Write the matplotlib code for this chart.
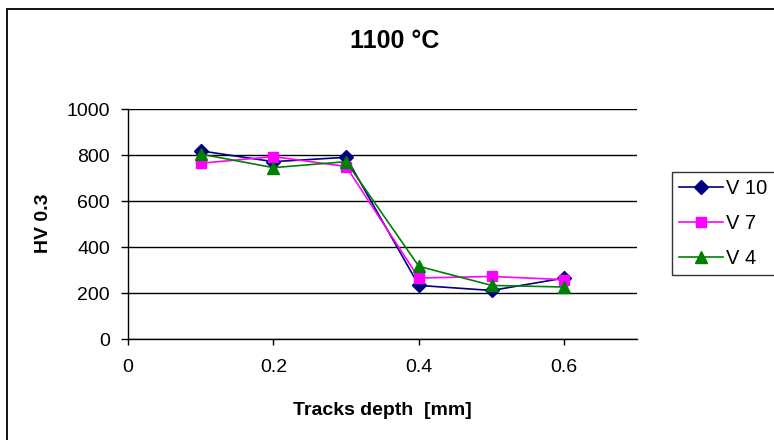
import matplotlib
matplotlib.use("Agg")
import matplotlib.pyplot as plt
from matplotlib.patches import Rectangle
from matplotlib.lines import Line2D

plt.rcParams['font.family'] = ['Liberation Sans', 'DejaVu Sans']

# Hardness profile data
depth = [0.1, 0.2, 0.3, 0.4, 0.5, 0.6]
v10 = [818, 771, 790, 233, 211, 265]
v7 = [764, 793, 750, 265, 272, 258]
v4 = [804, 745, 771, 316, 233, 226]
series_names = ["V 10", "V 7", "V 4"]
y_ticks = [0, 200, 400, 600, 800, 1000]
x_ticks = [0, 0.2, 0.4, 0.6]
x_tick_labels = ["0", "0.2", "0.4", "0.6"]

W, H = 774, 440
fig = plt.figure(figsize=(W / 100, H / 100), dpi=100)

# outer chart frame
fig.patches.append(Rectangle((7 / W, 0 - 0.1), 1.2, 1 - 9 / H + 0.1,
                             transform=fig.transFigure, fill=False,
                             edgecolor='black', linewidth=1.3, zorder=0))

ax = fig.add_axes([128 / W, 1 - 339 / H, (637 - 128) / W, (339 - 109) / H])
ax.set_xlim(0, 0.7)
ax.set_ylim(0, 1000)
ax.set_yticks(y_ticks)
ax.set_xticks(x_ticks)
ax.set_xticklabels(x_tick_labels)
ax.yaxis.grid(True, color='black', linewidth=1.0)
ax.set_axisbelow(True)
for side in ['top', 'right']:
    ax.spines[side].set_visible(False)
for side in ['left', 'bottom']:
    ax.spines[side].set_linewidth(1.0)
ax.tick_params(axis='y', direction='out', length=5, width=1, pad=8, labelsize=14)
ax.tick_params(axis='x', direction='out', length=4.5, width=1, pad=10, labelsize=14)

styles = [
    (v10, '#000080', 'D', 7),
    (v7, '#FF00FF', 's', 7.5),
    (v4, '#008000', '^', 8.5),
]
handles = []
for (vals, col, mk, ms), name in zip(styles, series_names):
    ax.plot(depth, vals, color=col, marker=mk, markersize=ms, linewidth=1.2,
            markeredgecolor=col, markerfacecolor=col, clip_on=False, zorder=3)
    handles.append(Line2D([], [], color=col, marker=mk, markersize=ms,
                          linewidth=1.2, markeredgecolor=col, markerfacecolor=col))

leg = fig.legend(handles, series_names, loc='upper left',
                 bbox_to_anchor=(672 / W, 1 - 172 / H), fontsize=14.5,
                 frameon=True, fancybox=False, edgecolor='black',
                 handlelength=2.2, handletextpad=0.15, borderpad=0.35,
                 labelspacing=0.8, borderaxespad=0)
leg.get_frame().set_linewidth(1.0)

fig.text(394.5 / W, 1 - 41 / H, "1100 °C", ha='center', va='center',
         fontsize=18, fontweight='bold')
fig.text(382 / W, 1 - 410 / H, "Tracks depth  [mm]", ha='center', va='center',
         fontsize=14, fontweight='bold')
fig.text(44 / W, 1 - 223 / H, "HV 0.3", ha='center', va='center',
         rotation=90, fontsize=14, fontweight='bold')

fig.savefig("out.png", dpi=100)
